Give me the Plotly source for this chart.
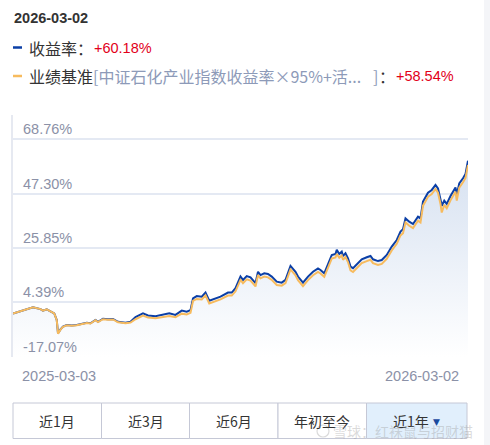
import plotly.graph_objects as go
import pandas as pd

# ---------------- data ----------------
start_date = "2025-03-03"
day_offsets = [0, 8, 16, 22, 24, 27, 30, 33, 35, 36, 38, 40, 43, 47, 51, 55, 59, 62, 66, 68,
               72, 76, 80, 84, 90, 94, 98, 104, 108, 114, 119, 125, 130, 135, 139, 142, 144, 147, 151, 154,
               157, 160, 166, 172, 175, 178, 182, 184, 187, 190, 194, 196, 198, 201, 204, 207, 211, 215, 218, 222,
               226, 228, 232, 236, 240, 244, 246, 249, 252, 255, 258, 259, 261, 263, 264, 266, 268, 270, 272, 276,
               279, 283, 286, 288, 292, 295, 299, 303, 307, 310, 312, 314, 317, 320, 324, 326, 328, 332, 335, 338,
               340, 342, 343, 345, 347, 350, 354, 355, 357, 360, 362, 364]
fund_return = [0.0, 1.4, 2.5, 1.8, 1.2, 1.7, 0.8, 0.1, -2.5, -7.7, -6.2, -5.1, -4.5, -4.7, -4.5, -4.1, -3.6, -3.8, -2.5, -3.2,
               -2.0, -2.2, -2.1, -3.2, -3.6, -3.2, -1.4, 0.1, -0.7, -1.0, -0.6, 0.1, -0.5, 1.2, 0.8, 1.4, 6.0, 6.9, 6.7, 8.3,
               5.1, 5.6, 6.7, 8.3, 8.3, 10.0, 14.6, 13.3, 14.8, 14.3, 12.0, 16.5, 15.2, 15.9, 15.6, 14.6, 12.6, 12.2, 13.3, 18.8,
               16.5, 14.6, 12.2, 14.6, 16.5, 17.8, 17.2, 15.9, 19.8, 23.1, 23.5, 25.1, 23.5, 24.4, 22.7, 23.8, 21.8, 18.5, 17.9, 19.8,
               21.4, 22.2, 22.7, 21.4, 20.7, 21.1, 23.1, 26.4, 29.0, 32.3, 33.2, 37.5, 36.2, 35.3, 38.2, 37.5, 44.1, 47.6, 48.7, 50.7,
               49.3, 45.0, 42.5, 44.5, 43.2, 46.3, 49.7, 46.7, 51.3, 53.3, 55.0, 60.18]
bench_return = [0.0, 1.4, 2.5, 1.8, 1.2, 1.7, 0.8, 0.1, -2.6, -7.9, -6.3, -5.2, -4.6, -4.8, -4.6, -4.2, -3.7, -3.9, -2.6, -3.3,
                -2.2, -2.4, -2.3, -3.4, -3.8, -3.5, -2.2, -0.8, -1.5, -1.8, -1.5, -0.9, -1.4, 0.0, -0.3, 0.3, 5.0, 5.8, 5.6, 7.2,
                4.0, 4.5, 5.6, 7.1, 7.1, 8.8, 13.3, 12.0, 13.5, 13.0, 10.7, 15.2, 13.9, 14.6, 14.3, 13.3, 11.3, 11.0, 12.0, 17.4,
                15.1, 13.2, 10.8, 13.2, 15.1, 16.4, 15.8, 14.5, 18.4, 21.7, 22.1, 23.5, 22.0, 22.9, 21.2, 22.3, 20.3, 17.0, 16.4, 18.3,
                19.9, 20.7, 21.2, 19.9, 19.2, 19.6, 21.6, 24.9, 27.5, 30.8, 31.7, 35.9, 34.6, 33.7, 36.6, 35.9, 42.5, 46.0, 47.1, 49.1,
                47.6, 43.2, 39.8, 42.8, 41.5, 44.6, 48.0, 44.5, 49.6, 51.7, 53.4, 58.54]
ytick_vals = [68.76, 47.30, 25.85, 4.39, -17.07]
ytick_text = ["68.76%", "47.30%", "25.85%", "4.39%", "-17.07%"]
xtick_text = ["2025-03-03", "2026-03-02"]
header_date = "2026-03-02"
fund_label = "收益率："
fund_last = "+60.18%"
bench_label = "业绩基准"
bench_desc = "[中证石化产业指数收益率×95%+活..."
bench_last = "+58.54%"
buttons = ["近1月", "近3月", "近6月", "年初至今", "近1年"]
watermark = "雪球：红袜鼠与招财猫"

dates = pd.Timestamp(start_date) + pd.to_timedelta(day_offsets, unit="D")

# ---------------- layout helpers ----------------
W, H = 490, 445
L, R, T, B = 13, 468, 115, 357
def px(x):
    return (x - L) / (R - L)
def py(y):
    return (B - y) / (B - T)

BLUE = "#0b3fa6"
YELLOW = "#f7bb5e"
GRID = "#e4e9f3"
TICKC = "#8b91a7"
NUMF = "Liberation Sans, Arial, sans-serif"
CJKF = "Noto Sans CJK SC, sans-serif"

ymin = min(ytick_vals)
ymax = max(ytick_vals) + 24 / ((B - 139) / (max(ytick_vals) - ymin))

fig = go.Figure()
# baseline for area fill (axis bottom)
fig.add_trace(go.Scatter(x=[dates[0], dates[-1]], y=[ymin, ymin], mode="lines",
                         line=dict(width=0, color="rgba(0,0,0,0)"), hoverinfo="skip", showlegend=False))
fig.add_trace(go.Scatter(x=dates, y=fund_return, mode="lines", fill="tonexty",
                         fillgradient=dict(type="vertical",
                                           colorscale=[[0, "rgba(255,255,255,1)"], [1, "rgba(214,225,241,1)"]],
                                           start=ymin, stop=max(fund_return)),
                         line=dict(color=BLUE, width=2), showlegend=False))
fig.add_trace(go.Scatter(x=dates, y=bench_return, mode="lines",
                         line=dict(color=YELLOW, width=2), showlegend=False))

fig.update_layout(
    width=W, height=H,
    margin=dict(l=L, r=W - R, t=T, b=H - B, pad=0),
    paper_bgcolor="white", plot_bgcolor="rgba(0,0,0,0)",
    xaxis=dict(range=[dates[0], dates[-1]], showgrid=False, showticklabels=False, zeroline=False,
               showline=False, ticks=""),
    yaxis=dict(range=[ymin, ymax], tickvals=ytick_vals, showticklabels=False, showgrid=True,
               gridcolor=GRID, gridwidth=1.5, zeroline=False, showline=True, linecolor="#e6e9f1",
               linewidth=1.5, ticks=""),
    showlegend=False,
)

ann = []
# y tick labels inside plot
for v, t in zip(ytick_vals, ytick_text):
    ann.append(dict(x=0, xref="paper", y=v, yref="y", text=t, showarrow=False, xanchor="left",
                    yanchor="bottom", xshift=8, yshift=0, font=dict(family=NUMF, size=14.5, color=TICKC)))
# x date labels
ann.append(dict(x=dates[0], xref="x", y=py(376), yref="paper", text=xtick_text[0], showarrow=False,
                xanchor="left", yanchor="middle", xshift=7, font=dict(family=NUMF, size=14.5, color=TICKC)))
ann.append(dict(x=dates[-1], xref="x", y=py(376), yref="paper", text=xtick_text[1], showarrow=False,
                xanchor="right", yanchor="middle", xshift=-7, font=dict(family=NUMF, size=14.5, color=TICKC)))
# header
ann.append(dict(x=px(12), y=py(18), xref="paper", yref="paper", text="<b>" + header_date + "</b>", showarrow=False,
                xanchor="left", yanchor="middle", font=dict(family=NUMF, size=14.5, color="#333333")))
ann.append(dict(x=px(27), y=py(47.5), xref="paper", yref="paper", text=fund_label, showarrow=False,
                xanchor="left", yanchor="middle", font=dict(family=CJKF, size=16, color="#333333")))
ann.append(dict(x=px(92), y=py(47.5), xref="paper", yref="paper", text=fund_last, showarrow=False,
                xanchor="left", yanchor="middle", font=dict(family=NUMF, size=14.5, color="#e2001a")))
ann.append(dict(x=px(27), y=py(76), xref="paper", yref="paper", text=bench_label, showarrow=False,
                xanchor="left", yanchor="middle", font=dict(family=CJKF, size=16, color="#333333")))
ann.append(dict(x=px(91), y=py(76), xref="paper", yref="paper", text=bench_desc, showarrow=False,
                xanchor="left", yanchor="middle", font=dict(family=CJKF, size=16, color="#8d9ab8")))
ann.append(dict(x=px(371), y=py(76), xref="paper", yref="paper", text="]", showarrow=False,
                xanchor="left", yanchor="middle", font=dict(family=CJKF, size=16, color="#8d9ab8")))
ann.append(dict(x=px(377), y=py(76), xref="paper", yref="paper", text="：", showarrow=False,
                xanchor="left", yanchor="middle", font=dict(family=CJKF, size=16, color="#333333")))
ann.append(dict(x=px(394), y=py(76), xref="paper", yref="paper", text=bench_last, showarrow=False,
                xanchor="left", yanchor="middle", font=dict(family=NUMF, size=14.5, color="#e2001a")))

shapes = []
# legend dashes
shapes.append(dict(type="line", xref="paper", yref="paper", x0=px(13), x1=px(22), y0=py(47.5), y1=py(47.5),
                   line=dict(color=BLUE, width=2.5)))
shapes.append(dict(type="line", xref="paper", yref="paper", x0=px(13), x1=px(22), y0=py(76), y1=py(76),
                   line=dict(color=YELLOW, width=2.5)))
# right page strip
shapes.append(dict(type="rect", xref="paper", yref="paper", x0=px(484), x1=px(491), y0=py(446), y1=py(-1),
                   line=dict(width=0), fillcolor="#f4f5f8", layer="below"))

# buttons
edges = [13, 101.5, 189.5, 278, 366.5, 467]
btn_top, btn_bot = 403, 438.5
for i, lab in enumerate(buttons):
    x0, x1 = edges[i], edges[i + 1]
    active = i == len(buttons) - 1
    shapes.append(dict(type="rect", xref="paper", yref="paper", x0=px(x0), x1=px(x1), y0=py(btn_bot), y1=py(btn_top),
                       line=dict(color="#c5c8d6", width=1), fillcolor="#e1effc" if active else "white"))
    cx = (x0 + x1) / 2
    if active:
        ann.append(dict(x=px(cx - 6), y=py(421), xref="paper", yref="paper", text=lab, showarrow=False,
                        xanchor="center", yanchor="middle", font=dict(family=CJKF, size=14, color="#333333")))
        ann.append(dict(x=px(436), y=py(421.5), xref="paper", yref="paper", text="▼", showarrow=False,
                        xanchor="center", yanchor="middle", font=dict(family="DejaVu Sans", size=9, color="#1a4a9e")))
    else:
        ann.append(dict(x=px(cx), y=py(421), xref="paper", yref="paper", text=lab, showarrow=False,
                        xanchor="center", yanchor="middle", font=dict(family=CJKF, size=14, color="#333333")))

# watermark
ann.append(dict(x=px(331), y=py(431), xref="paper", yref="paper", text=watermark, showarrow=False,
                xanchor="left", yanchor="middle", font=dict(family=CJKF, size=14, color="rgba(150,150,150,0.35)")))
shapes.append(dict(type="circle", xref="paper", yref="paper", x0=px(317), x1=px(329), y0=py(437), y1=py(425),
                   line=dict(color="rgba(150,150,150,0.35)", width=1.2)))

fig.update_layout(annotations=ann, shapes=shapes)
fig.write_html("out.html")
